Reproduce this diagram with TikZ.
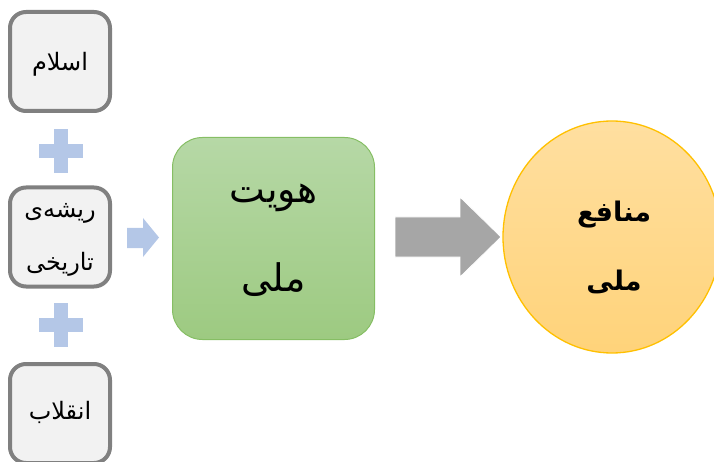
\documentclass[tikz,border=0pt]{standalone}
\usepackage{fontspec}
\newfontfamily\arabicfont[Script=Arabic]{DejaVu Sans}
\TeXXeTstate=1
\usetikzlibrary{shapes.geometric}
\definecolor{boxgray}{RGB}{128,128,128}
\definecolor{boxfill}{RGB}{242,242,242}
\definecolor{plusblue}{RGB}{180,199,231}
\definecolor{greentop}{RGB}{182,216,166}
\definecolor{greenbot}{RGB}{157,202,129}
\definecolor{greenline}{RGB}{134,190,100}
\definecolor{oratop}{RGB}{255,223,160}
\definecolor{orabot}{RGB}{255,211,122}
\definecolor{oraline}{RGB}{255,192,0}
\definecolor{arrowgray}{RGB}{166,166,166}
\begin{document}
\begin{tikzpicture}[x=1pt,y=-1pt,
  srcbox/.style={draw=boxgray, line width=4pt, fill=boxfill, rounded corners=16pt,
    minimum width=100pt, minimum height=99pt, inner sep=0pt},
  idbox/.style={draw=greenline, line width=1pt, top color=greentop, bottom color=greenbot,
    rounded corners=30pt, minimum width=202pt, minimum height=202pt, inner sep=0pt},
  goal/.style={ellipse, draw=oraline, line width=1.3pt, top color=oratop, bottom color=orabot,
    minimum width=218pt, minimum height=232pt, inner sep=0pt},
  srctext/.style={font=\arabicfont\fontsize{24}{28}\selectfont, inner sep=0pt},
  idtext/.style={font=\arabicfont\fontsize{38}{44}\selectfont, inner sep=0pt},
  goaltext/.style={font=\arabicfont\bfseries\fontsize{27}{32}\selectfont, inner sep=0pt},
  plussign/.style={fill=plusblue},
  blockarrow/.style={fill=plusblue}
]
\useasboundingbox (0,0) rectangle (714,462);

% source boxes
\node[srcbox] (b1) at (60,61.5) {};
\node[srcbox] (b2) at (60,237) {};
\node[srcbox] (b3) at (60,413.5) {};
\node[srctext] (t1) at (60,64) {\beginR اسلام\endR};
\node[srctext] (t2a) at (60,213) {\beginR ریشه‌ی\endR};
\node[srctext] (t2b) at (60,264) {\beginR تاریخی\endR};
\node[srctext] (t3) at (60,412) {\beginR انقلاب\endR};

% plus signs
\fill[plussign] (54,129) rectangle (68,173);
\fill[plussign] (39,144) rectangle (83,158);
\fill[plussign] (54,303) rectangle (68,347);
\fill[plussign] (39,318) rectangle (83,332);

% blue arrow
\fill[blockarrow] (127,228) -- (143,228) -- (143,218) -- (159,237.5) -- (143,257) -- (143,248) -- (127,248) -- cycle;

% identity box
\node[idbox] (id) at (273.5,238.5) {};
\node[idtext] (id1) at (273.5,198) {\beginR هویت\endR};
\node[idtext] (id2) at (273.5,280) {\beginR ملی\endR};

% goal ellipse
\node[goal] (g) at (612,237) {};
\node[goaltext] (g1) at (614,215) {\beginR منافع\endR};
\node[goaltext] (g2) at (614,282) {\beginR ملی\endR};

% grey arrow
\filldraw[fill=arrowgray, draw=white, line width=0.8pt] (395,217) -- (460,217) -- (460,197) -- (501,237) -- (460,277) -- (460,257) -- (395,257) -- cycle;
\end{tikzpicture}
\end{document}
